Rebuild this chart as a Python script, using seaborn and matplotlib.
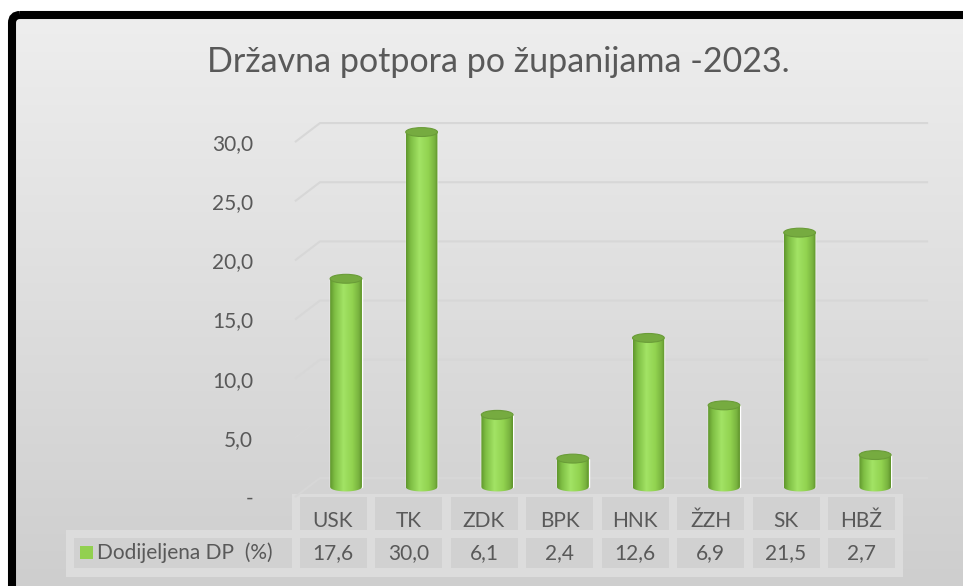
import numpy as np
import pandas as pd
import matplotlib
matplotlib.use("Agg")
import matplotlib.pyplot as plt
import seaborn as sns
from matplotlib.colors import LinearSegmentedColormap
from matplotlib.patches import Ellipse, Rectangle, FancyBboxPatch, Polygon

# =====================================
# Data
# =====================================

counties = ["USK", "TK", "ZDK", "BPK", "HNK", "ŽZH", "SK", "HBŽ"]
share = [17.6, 30.0, 6.1, 2.4, 12.6, 6.9, 21.5, 2.7]
y_ticks = [0, 5, 10, 15, 20, 25, 30]
series_name = "Dodijeljena DP  (%)"
title = "Državna potpora po županijama -2023."

df = pd.DataFrame({"zupanija": counties, "udio": share})


def fmt(v):
    return f"{v:.1f}".replace(".", ",")


# =====================================
# Style
# =====================================

sns.set_style("white")
plt.rcParams["font.family"] = ["Lato", "DejaVu Sans"]

TEXT = "#595959"
GREEN = "#92d050"
W, H = 963, 586

fig = plt.figure(figsize=(W / 100, H / 100), dpi=100)

# =====================================
# Background, frame, title, table
# =====================================

bg = fig.add_axes([0, 0, 1, 1])
bg_cmap = LinearSegmentedColormap.from_list("bg", ["#eeeeee", "#cdcdcd"])
bg.imshow(np.linspace(0, 1, 256).reshape(-1, 1), cmap=bg_cmap,
          extent=[12, W + 20, H + 20, 15], aspect="auto")
bg.add_patch(FancyBboxPatch((12, 15), W + 40, H + 40,
                            boxstyle="round,pad=0,rounding_size=8",
                            fc="none", ec="black", lw=5.8))
bg.set_xlim(0, W)
bg.set_ylim(H, 0)
bg.axis("off")

bg.text(498, 62, title, ha="center", va="center", fontsize=24.5, color=TEXT)

LIGHT = "#dcdcdc"
CELL = "#d1d1d1"
col_x = [333 + 75.5 * i for i in range(len(counties))]

bg.add_patch(Rectangle((292, 494), 611, 44, fc=LIGHT, ec="none"))
bg.add_patch(Rectangle((66, 530), 837, 47, fc=LIGHT, ec="none"))
for cx, name, v in zip(col_x, counties, share):
    bg.add_patch(Rectangle((cx - 33.5, 497), 67, 33, fc=CELL, ec="none"))
    bg.add_patch(Rectangle((cx - 33.5, 538), 67, 30, fc=CELL, ec="none"))
    bg.text(cx, 521, name, ha="center", va="center", fontsize=15, color=TEXT)
    bg.text(cx, 553, fmt(v), ha="center", va="center", fontsize=15, color=TEXT)

bg.add_patch(Rectangle((74, 538), 218, 30, fc=CELL, ec="none"))
bg.add_patch(Rectangle((80, 546), 13, 13, fc=GREEN, ec="none"))
bg.text(97, 553, series_name, ha="left", va="center", fontsize=15, color=TEXT)

# =====================================
# Cylinder bars
# =====================================

ax = fig.add_axes([262 / W, (H - 500) / H, (940 - 262) / W, 400 / H])
ax.patch.set_alpha(0)

sns.barplot(data=df, x="zupanija", y="udio", color=GREEN, width=0.42,
            saturation=1, ax=ax, zorder=3)

cyl_cmap = LinearSegmentedColormap.from_list(
    "cyl", [(0.0, "#5f962d"), (0.15, "#7fbf44"), (0.42, "#a2e365"),
            (0.7, "#92d350"), (0.9, "#79b33f"), (1.0, "#5d922b")])
grad_x = np.linspace(0, 1, 256).reshape(1, -1)
eh = 0.75
theta = np.linspace(np.pi, 2 * np.pi, 40)

for p in ax.patches[:len(counties)]:
    x0, w, h = p.get_x(), p.get_width(), p.get_height()
    xc = x0 + w / 2
    bx = xc + (w / 2) * np.cos(theta)
    by = (eh / 2) * np.sin(theta)
    verts = [(x0, h)] + list(zip(bx, by)) + [(x0 + w, h)]
    clip = Polygon(verts, closed=True, fc="none", ec="none")
    ax.add_patch(clip)
    img = ax.imshow(grad_x, cmap=cyl_cmap, extent=[x0, x0 + w, -eh, h],
                    aspect="auto", zorder=4)
    img.set_clip_path(clip)
    ax.add_patch(Ellipse((xc, h), w, eh, fc="#76ab40", ec="#6a9c38",
                         lw=0.8, zorder=5))

# back wall gridlines with perspective step
for v in y_ticks:
    ax.plot([-0.675, -0.344, 7.70], [v - 0.85, v + 0.76, v + 0.76],
            color="#d7d7d7", lw=1.5, zorder=1, solid_capstyle="butt")

ax.set_xlim(-1.111, 7.857)
ax.set_ylim(-1.099, 32.71)
ax.set_yticks([v - 0.85 for v in y_ticks],
              [fmt(v) if v else "-" for v in y_ticks])
ax.set_xticks([])
ax.tick_params(axis="y", length=0, pad=6.5, labelsize=15, labelcolor=TEXT)
ax.set_xlabel("")
ax.set_ylabel("")
sns.despine(ax=ax, left=True, bottom=True)

fig.savefig("out.png", dpi=100)
